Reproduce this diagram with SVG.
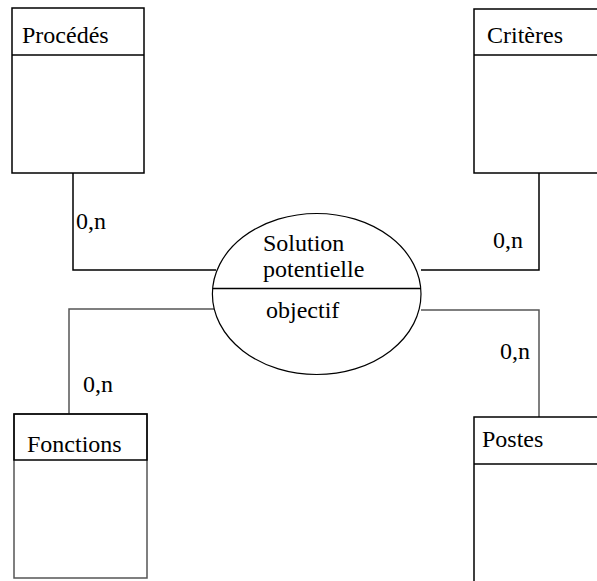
<svg xmlns="http://www.w3.org/2000/svg" width="597" height="581" viewBox="0 0 597 581">
<style>
text{font-family:"Liberation Serif","Times New Roman",serif;font-size:24px;fill:#000}
.b{fill:#fff;stroke:#000;stroke-width:1.5}
.g{fill:none;stroke:#555;stroke-width:1.5}
.l{fill:none;stroke:#000;stroke-width:1.5}
</style>
<rect width="597" height="581" fill="#fff"/>
<g id="connectors">
<polyline class="l" points="73,173 73,270 216,270"/>
<polyline class="l" points="539,173 539,270 421,270"/>
<polyline class="g" points="216,309 69,309 69,414"/>
<polyline class="g" points="421,310 539,310 539,417"/>
<text x="76" y="229">0,n</text>
<text x="83" y="392">0,n</text>
<text x="493" y="248">0,n</text>
<text x="500" y="359">0,n</text>
</g>
<g id="procedes">
<rect class="b" x="12" y="8" width="132" height="165"/>
<line class="l" x1="12" y1="55" x2="144" y2="55"/>
<text x="22" y="43">Procédés</text>
</g>
<g id="criteres">
<rect class="b" x="474" y="9" width="140" height="164"/>
<line class="l" x1="474" y1="55" x2="614" y2="55"/>
<text x="487" y="43">Critères</text>
</g>
<g id="fonctions">
<rect class="b" x="14" y="414" width="133" height="164" style="stroke:#555"/>
<rect fill="none" stroke="#000" stroke-width="1.5" x="14" y="414" width="133" height="46"/>
<text x="27" y="452">Fonctions</text>
</g>
<g id="postes">
<rect class="b" x="474" y="417" width="140" height="180"/>
<line class="l" x1="474" y1="464" x2="614" y2="464"/>
<text x="482" y="447">Postes</text>
</g>
<g id="solution">
<ellipse cx="316.7" cy="294" rx="104.3" ry="80.5" fill="#fff" stroke="#000" stroke-width="1.2"/>
<line class="l" x1="212.5" y1="288.5" x2="421" y2="288.5"/>
<text x="263" y="251">Solution</text>
<text x="263" y="277">potentielle</text>
<text x="266" y="318">objectif</text>
</g>
</svg>
